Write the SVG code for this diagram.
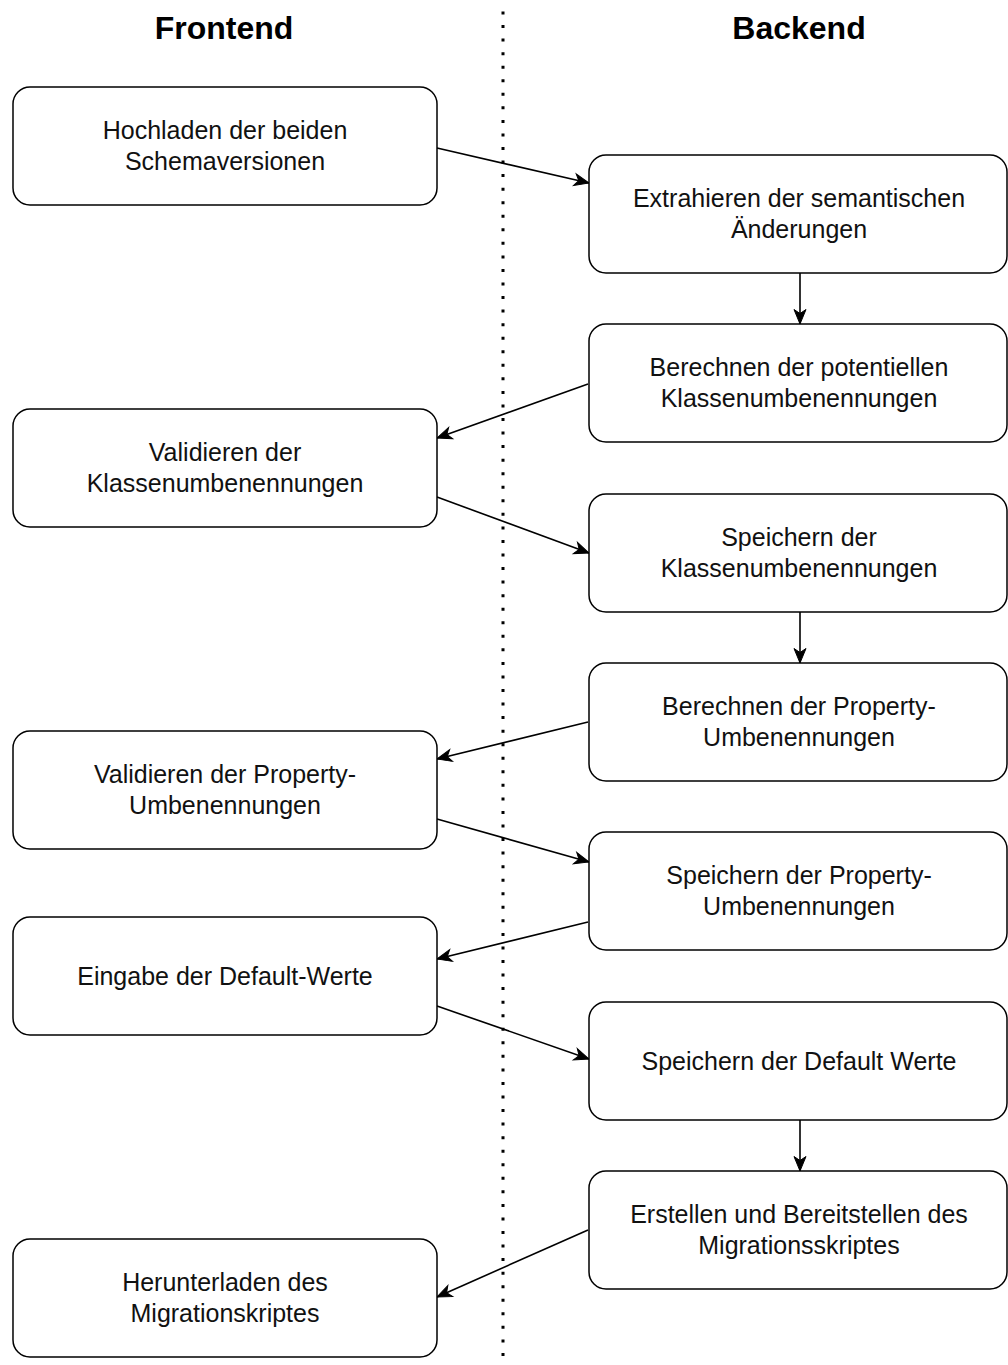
<svg xmlns="http://www.w3.org/2000/svg" width="1008" height="1365" viewBox="0 0 1008 1365">
<style>
.box{fill:#fff;stroke:#000;stroke-width:1.5}
.t{font-family:"Liberation Sans",Arial,sans-serif;font-size:25px;fill:#111;text-anchor:middle}
.h{font-family:"Liberation Sans",Arial,sans-serif;font-size:32px;font-weight:bold;fill:#000;text-anchor:middle}
.c{fill:none;stroke:#000;stroke-width:1.6}
</style>
<defs>
<marker id="arr" markerUnits="userSpaceOnUse" viewBox="0 0 16 14" markerWidth="16" markerHeight="14" refX="15" refY="7" orient="auto" overflow="visible">
<path d="M0.5,1 L15,7 L0.5,13 L4.5,7 z" fill="#000" stroke="#000" stroke-width="1" stroke-linejoin="miter"/>
</marker>
</defs>
<rect width="1008" height="1365" fill="#fff"/>
<g id="titles">
<text class="h" x="224" y="39">Frontend</text>
<text class="h" x="799" y="39">Backend</text>
</g>
<line id="divider" x1="503" y1="11.5" x2="503" y2="1365" stroke="#000" stroke-width="3" stroke-dasharray="3 10.55"/>
<g id="connectors">
<line class="c" x1="437" y1="148" x2="589" y2="183" marker-end="url(#arr)"/>
<line class="c" x1="800" y1="273" x2="800" y2="324" marker-end="url(#arr)"/>
<line class="c" x1="588" y1="384" x2="437" y2="438" marker-end="url(#arr)"/>
<line class="c" x1="437" y1="497" x2="589" y2="553" marker-end="url(#arr)"/>
<line class="c" x1="800" y1="612" x2="800" y2="663" marker-end="url(#arr)"/>
<line class="c" x1="588" y1="722" x2="437" y2="759" marker-end="url(#arr)"/>
<line class="c" x1="437" y1="819" x2="589" y2="862" marker-end="url(#arr)"/>
<line class="c" x1="588" y1="922" x2="437" y2="959" marker-end="url(#arr)"/>
<line class="c" x1="437" y1="1006" x2="589" y2="1059" marker-end="url(#arr)"/>
<line class="c" x1="800" y1="1120" x2="800" y2="1171" marker-end="url(#arr)"/>
<line class="c" x1="588" y1="1230" x2="437" y2="1297" marker-end="url(#arr)"/>
</g>
<g id="n-hochladen">
<rect class="box" x="13" y="87" width="424" height="118" rx="17"/>
<text class="t" x="225" y="139">Hochladen der beiden</text>
<text class="t" x="225" y="170">Schemaversionen</text>
</g>
<g id="n-extrahieren">
<rect class="box" x="589" y="155" width="418" height="118" rx="17"/>
<text class="t" x="799" y="207">Extrahieren der semantischen</text>
<text class="t" x="799" y="238">Änderungen</text>
</g>
<g id="n-berechnen-klassen">
<rect class="box" x="589" y="324" width="418" height="118" rx="17"/>
<text class="t" x="799" y="376">Berechnen der potentiellen</text>
<text class="t" x="799" y="407">Klassenumbenennungen</text>
</g>
<g id="n-validieren-klassen">
<rect class="box" x="13" y="409" width="424" height="118" rx="17"/>
<text class="t" x="225" y="461">Validieren der</text>
<text class="t" x="225" y="492">Klassenumbenennungen</text>
</g>
<g id="n-speichern-klassen">
<rect class="box" x="589" y="494" width="418" height="118" rx="17"/>
<text class="t" x="799" y="546">Speichern der</text>
<text class="t" x="799" y="577">Klassenumbenennungen</text>
</g>
<g id="n-berechnen-property">
<rect class="box" x="589" y="663" width="418" height="118" rx="17"/>
<text class="t" x="799" y="715">Berechnen der Property-</text>
<text class="t" x="799" y="746">Umbenennungen</text>
</g>
<g id="n-validieren-property">
<rect class="box" x="13" y="731" width="424" height="118" rx="17"/>
<text class="t" x="225" y="783">Validieren der Property-</text>
<text class="t" x="225" y="814">Umbenennungen</text>
</g>
<g id="n-speichern-property">
<rect class="box" x="589" y="832" width="418" height="118" rx="17"/>
<text class="t" x="799" y="884">Speichern der Property-</text>
<text class="t" x="799" y="915">Umbenennungen</text>
</g>
<g id="n-eingabe">
<rect class="box" x="13" y="917" width="424" height="118" rx="17"/>
<text class="t" x="225" y="985">Eingabe der Default-Werte</text>
</g>
<g id="n-speichern-default">
<rect class="box" x="589" y="1002" width="418" height="118" rx="17"/>
<text class="t" x="799" y="1070">Speichern der Default Werte</text>
</g>
<g id="n-erstellen">
<rect class="box" x="589" y="1171" width="418" height="118" rx="17"/>
<text class="t" x="799" y="1223">Erstellen und Bereitstellen des</text>
<text class="t" x="799" y="1254">Migrationsskriptes</text>
</g>
<g id="n-herunterladen">
<rect class="box" x="13" y="1239" width="424" height="118" rx="17"/>
<text class="t" x="225" y="1291">Herunterladen des</text>
<text class="t" x="225" y="1322">Migrationskriptes</text>
</g>
</svg>
